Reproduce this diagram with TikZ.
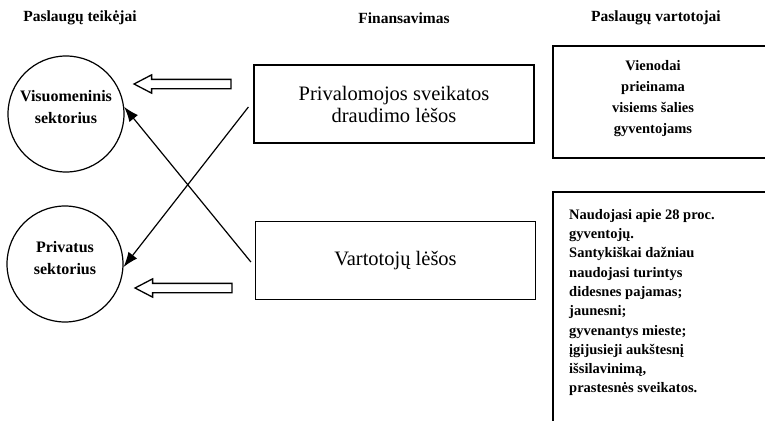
\documentclass[tikz,border=0pt]{standalone}
\usepackage{fontspec}
\setmainfont{Liberation Serif}
\usetikzlibrary{arrows.meta, shapes.arrows, positioning}

\begin{document}
\begin{tikzpicture}[x=1pt, y=-1pt,
    head/.style={font=\fontsize{15.5}{17}\selectfont\bfseries},
    sector/.style={draw, circle, line width=1.2pt, minimum size=116pt, inner sep=0pt},
    sectorname/.style={align=center, font=\fontsize{16}{22}\selectfont\bfseries},
    fund/.style={draw, line width=1.2pt, minimum width=280pt, minimum height=78pt, align=center, font=\fontsize{20.5}{22}\selectfont},
    users/.style={font=\fontsize{14.5}{21}\selectfont\bfseries},
    hollow/.style={draw, single arrow, line width=1.3pt, shape border rotate=180, minimum height=97pt, single arrow head extend=4.5pt, single arrow tip angle=55, inner xsep=0pt, inner ysep=4pt},
    flow/.style={line width=1.2pt, -{Latex[length=15pt, width=11pt]}}
]
    \useasboundingbox (0,0) rectangle (765,420);

    % Headers
    \node[head] (provH) at (80,18) {Paslaugų teikėjai};
    \node[head] (finH) at (404,18) {Finansavimas};
    \node[head] (consH) at (656,18) {Paslaugų vartotojai};

    % Providers
    \node[sector] (public) at (66,114) {};
    \node[sectorname] at ([yshift=7pt]public.center) {Visuomeninis\\sektorius};
    \node[sector] (private) at (65,264) {};
    \node[sectorname] at ([yshift=6pt]private.center) {Privatus\\sektorius};

    % Funding
    \node[fund] (mandatory) at (394,104) {Privalomojos sveikatos\\draudimo lėšos};
    \node[fund] (own) at (395.5,260.5) {Vartotojų lėšos};

    % Users
    \node[users, align=center] (equal) at (653,99) {Vienodai\\prieinama\\visiems šalies\\gyventojams};
    \draw[line width=1.2pt] (770,46) -| (553,158) -- (770,158);

    \node[users, align=left, anchor=north west, inner sep=0pt, font=\fontsize{14.5}{19.3}\selectfont\bfseries] (paying) at (569,209)
        {Naudojasi apie 28 proc.\\gyventojų.\\Santykiškai dažniau\\naudojasi turintys\\didesnes pajamas;\\jaunesni;\\gyvenantys mieste;\\įgijusieji aukštesnį\\išsilavinimą,\\prastesnės sveikatos.};
    \draw[line width=1.2pt] (770,192) -| (553,425);

    % Hollow arrows
    \node[hollow] (toPublic) at (187,84) {};
    \node[hollow] (toPrivate) at (188,288) {};

    % Crossing flows
    \draw[flow] ([xshift=-5pt, yshift=-3pt]mandatory.west) -- (private.-3);
    \draw[flow] ([xshift=-4pt, yshift=-1.5pt]own.west) -- (public.7);

\end{tikzpicture}
\end{document}
